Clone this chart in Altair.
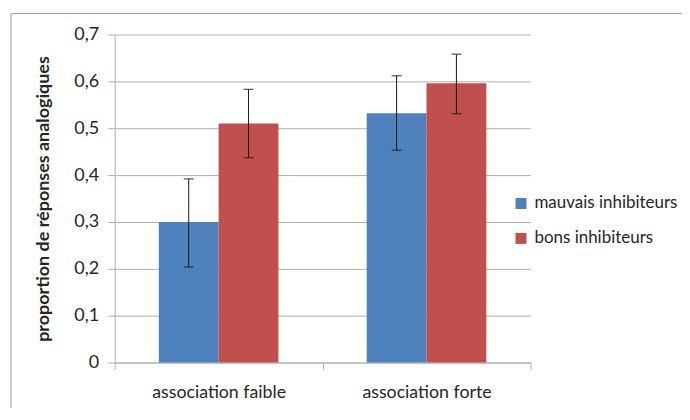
import altair as alt
import pandas as pd

categories = ["association faible", "association forte"]
groups = ["mauvais inhibiteurs", "bons inhibiteurs"]
means_mauvais = [0.300, 0.532]
means_bons = [0.510, 0.596]
low_mauvais = [0.204, 0.453]
high_mauvais = [0.392, 0.612]
low_bons = [0.437, 0.531]
high_bons = [0.583, 0.658]
y_ticks = [0, 0.1, 0.2, 0.3, 0.4, 0.5, 0.6, 0.7]

rows = []
for i, c in enumerate(categories):
    rows.append(dict(cat=c, grp=groups[0], mean=means_mauvais[i], low=low_mauvais[i], high=high_mauvais[i]))
    rows.append(dict(cat=c, grp=groups[1], mean=means_bons[i], low=low_bons[i], high=high_bons[i]))
df = pd.DataFrame(rows)

FONT = "Lato"
GRID = "#b0b0b0"
TXT = "#262626"

x = alt.X("cat:N", sort=categories,
          scale=alt.Scale(paddingInner=0, paddingOuter=0),
          axis=alt.Axis(title=None, tickBand="extent", labelAngle=0, labelFontSize=17.8,
                        labelFont=FONT, labelColor=TXT, labelPadding=14,
                        domainColor=GRID, tickColor=GRID, tickSize=7))
xo = alt.XOffset("grp:N", sort=groups, scale=alt.Scale(paddingInner=0, paddingOuter=0.7375))
y = alt.Y("mean:Q",
          scale=alt.Scale(domain=[0, 0.7], nice=False),
          axis=alt.Axis(title="proportion de réponses analogiques", values=y_ticks,
                        labelExpr="datum.value == 0 ? '0' : replace(format(datum.value, '.1f'), '.', ',')",
                        labelFontSize=18, labelFont=FONT, labelColor=TXT, labelPadding=9,
                        titleFont=FONT, titleFontSize=18, titleFontWeight="bold", titleColor=TXT,
                        titlePadding=21, gridColor=GRID, domainColor=GRID, tickColor=GRID, tickSize=7))

color = alt.Color("grp:N", sort=groups,
                  scale=alt.Scale(domain=groups, range=["#4F81BD", "#C0504D"]),
                  legend=alt.Legend(title=None, orient="none", legendX=399, legendY=161,
                                    symbolType="square", symbolSize=121, symbolStrokeWidth=0,
                                    labelFont=FONT, labelFontSize=17, labelColor=TXT,
                                    rowPadding=17, labelOffset=5, labelLimit=300))

base = alt.Chart(df)
bars = base.mark_bar().encode(x=x, xOffset=xo, y=y, color=color)
rules = base.mark_rule(color="#1a1a1a", strokeWidth=1).encode(x=x, xOffset=xo, y="low:Q", y2="high:Q")
cap_hi = base.mark_tick(color="#1a1a1a", size=10, thickness=1.3).encode(x=x, xOffset=xo, y="high:Q")
cap_lo = base.mark_tick(color="#1a1a1a", size=10, thickness=1.3).encode(x=x, xOffset=xo, y="low:Q")
frame = alt.Chart(pd.DataFrame({"a": [0]})).mark_rect(fill=None, stroke="#9a9a9a", strokeWidth=1, clip=False).encode(
    x=alt.value(-104), x2=alt.value(572), y=alt.value(-21), y2=alt.value(396))

chart = alt.layer(frame, bars, rules, cap_hi, cap_lo).properties(
    width=417, height=329,
    autosize=alt.AutoSizeParams(type="none"),
    padding={"left": 107, "top": 26, "right": 152, "bottom": 45},
).configure_view(stroke=None).configure_axis(
    grid=True, labelFont=FONT, labelColor=TXT
).configure_axisX(grid=False, labelFontSize=17.8).configure_axisY(labelFontSize=18)

chart.save("out.html", embed_options={"renderer": "svg", "actions": False})
